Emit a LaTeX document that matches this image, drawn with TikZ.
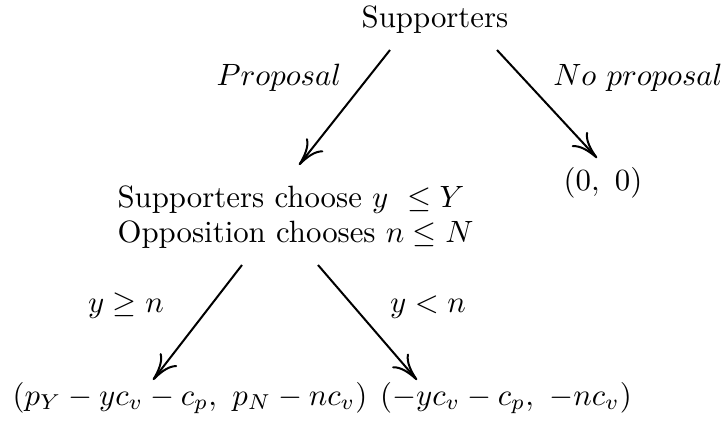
\documentclass[tikz,border=0pt]{standalone}
\usetikzlibrary{arrows.meta}
\begin{document}
\begin{tikzpicture}[x=0.3247pt,y=-0.3247pt,
  txt/.style={inner sep=0pt,anchor=base},
  lbl/.style={inner sep=0pt,anchor=base},
  arr/.style={draw,line width=0.65pt,-{Computer Modern Rightarrow[length=8.5pt,width=7pt]}}]
\useasboundingbox (0,0) rectangle (723,423);
\node[txt] (root) at (435,27) {Supporters};
\node[txt,anchor=base west] (mid1) at (117,207) {Supporters choose $y\ \leq Y$};
\node[txt,anchor=base west] (mid2) at (117,242) {Opposition chooses $n\leq N$};
\node[txt] (zero) at (603,190) {$(0,\ 0)$};
\node[txt] (bl) at (190,405) {$(p_Y-yc_v-c_p,\ p_N-nc_v)$};
\node[txt] (br) at (506,405) {$(-yc_v-c_p,\ -nc_v)$};
\coordinate (a1s) at (390,50);
\coordinate (a1e) at (299,165);
\coordinate (a2s) at (497,50);
\coordinate (a2e) at (597,158);
\coordinate (a3s) at (242,265);
\coordinate (a3e) at (153,380);
\coordinate (a4s) at (318,265);
\coordinate (a4e) at (417,380);
\draw[arr] (a1s) -- (a1e);
\draw[arr] (a2s) -- (a2e);
\draw[arr] (a3s) -- (a3e);
\draw[arr] (a4s) -- (a4e);
\node[lbl] (lp) at (279,85) {$Proposal$};
\node[lbl] (lnp) at (638,85) {$No\ proposal$};
\node[lbl] (lge) at (126,312) {$y\geq n$};
\node[lbl] (llt) at (428,312) {$y<n$};
\end{tikzpicture}
\end{document}
